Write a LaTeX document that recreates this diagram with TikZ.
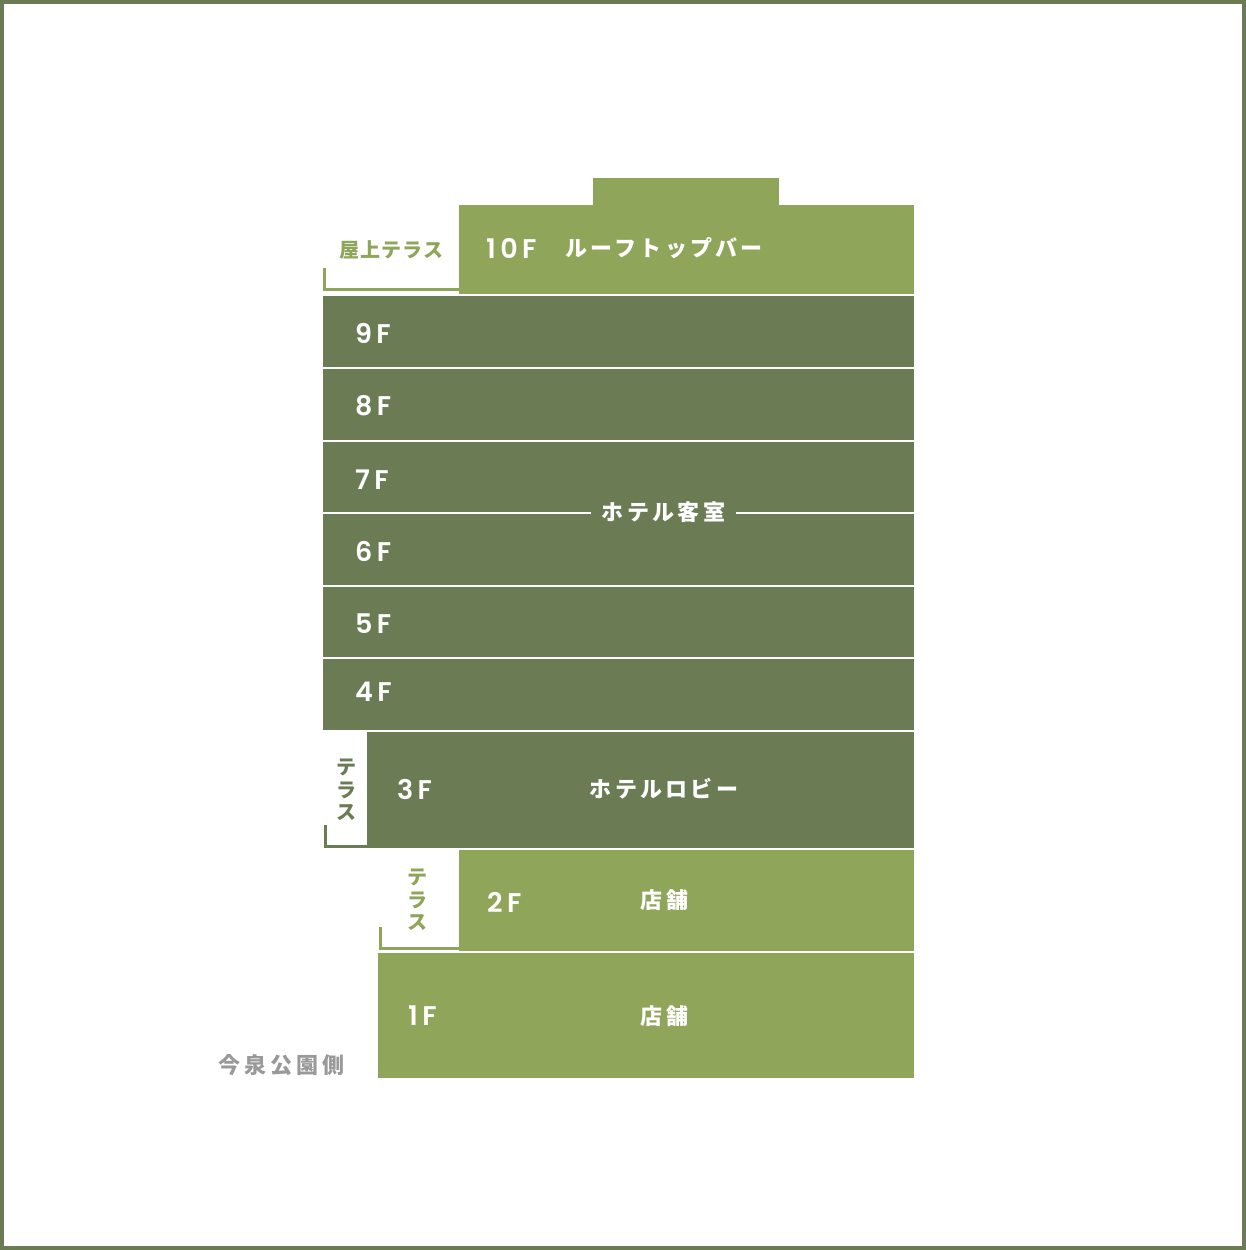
\documentclass[tikz,border=0pt]{standalone}
\usepackage{fontspec}
\newfontfamily\jpbase{Noto Sans CJK JP}
\newcommand\jp{\jpbase\bfseries}
\IfFontExistsTF{Poppins SemiBold}
  {\newfontfamily\lat{Poppins SemiBold}}
  {\IfFontExistsTF{Poppins Medium}
    {\newfontfamily\lat{Poppins Medium}}
    {\newfontfamily\lat{Poppins}[FakeBold=4]}}
\definecolor{lg}{HTML}{8FA55A}
\definecolor{dg}{HTML}{6B7C55}
\definecolor{gt}{HTML}{999999}
\tikzset{
  floorlab/.style={font=\lat\fontsize{27}{27}\selectfont\addfontfeatures{LetterSpace=16}, text=white, anchor=west, inner sep=0},
  jplab/.style={font=\jp\fontsize{22}{22}\selectfont\addfontfeatures{LetterSpace=15}, text=white, inner sep=0},
  vlab/.style={font=\jp\fontsize{20}{22.5}\selectfont, align=center, inner sep=0},
  bracket/.style={line width=3pt},
}
\begin{document}
\begin{tikzpicture}[x=1pt,y=-1pt]
\useasboundingbox (0,0) rectangle (1246,1250);
\draw[dg, line width=4pt] (2,2) rectangle (1244,1248);
% 10F
\fill[lg] (459,205) rectangle (914,294);
\fill[lg] (593,178) rectangle (779,206);
% 9F - 4F
\fill[dg] (323,296) rectangle (914,367);
\fill[dg] (323,369) rectangle (914,440);
\fill[dg] (323,442) rectangle (914,512);
\fill[dg] (323,514) rectangle (914,585);
\fill[dg] (323,587) rectangle (914,657);
\fill[dg] (323,659) rectangle (914,730);
% 3F
\fill[dg] (367,732) rectangle (914,848);
% 2F
\fill[lg] (459,850) rectangle (914,951);
% 1F
\fill[lg] (378,953) rectangle (914,1078);
% brackets
\draw[lg, bracket] (324.5,268) -- (324.5,289.5) -- (459,289.5);
\draw[dg, bracket] (325,825) -- (325,846) -- (367,846);
\draw[lg, bracket] (380,927) -- (380,948.5) -- (459,948.5);
% labels
\node[jplab, text=lg, font=\jp\fontsize{20}{20}\selectfont\addfontfeatures{LetterSpace=5}] (roof) at (391.5,250) {屋上テラス};
\node[floorlab] (f10) at (486,248) {10F};
\node[jplab, anchor=west] (bar) at (565,248) {ルーフトップバー};
\node[floorlab] (f9) at (355,333) {9F};
\node[floorlab] (f8) at (355,406) {8F};
\node[floorlab] (f7) at (355,480) {7F};
\node[floorlab] (f6) at (355,551) {6F};
\node[floorlab] (f5) at (355,624) {5F};
\node[floorlab] (f4) at (355,692) {4F};
\node[jplab, fill=dg, inner xsep=11pt, inner ysep=4pt] (room) at (663.5,512) {ホテル客室};
\node[floorlab] (f3) at (397,789) {3F};
\node[jplab] (lobby) at (664,789) {ホテルロビー};
\node[vlab, text=dg] (t3) at (346,790) {テ\\ラ\\ス};
\node[vlab, text=lg] (t2) at (417,900) {テ\\ラ\\ス};
\node[floorlab] (f2) at (487,902) {2F};
\node[jplab] (shop2) at (664.5,900) {店舗};
\node[floorlab] (f1) at (408,1016) {1F};
\node[jplab] (shop1) at (664.5,1016) {店舗};
\node[jplab, text=gt, font=\jp\fontsize{22}{22}\selectfont\addfontfeatures{LetterSpace=18}] (park) at (281.5,1065) {今泉公園側};
\end{tikzpicture}
\end{document}
